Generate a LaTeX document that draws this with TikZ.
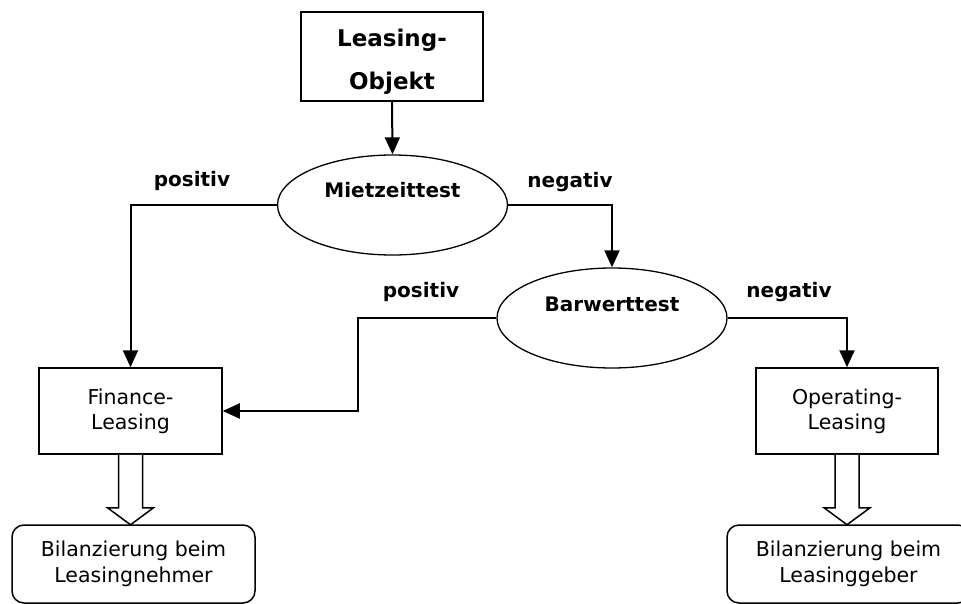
\documentclass[tikz,border=0pt]{standalone}
\usepackage{fontspec}
\setmainfont{DejaVu Sans}
\usetikzlibrary{shapes.geometric,arrows.meta,calc}
\tikzset{
  boxnode/.style={draw,line width=1.5pt,rectangle,align=center,inner sep=0pt,font=\fontsize{20.5}{25}\selectfont},
  testnode/.style={draw,line width=1.3pt,ellipse,inner sep=0pt,minimum width=230pt,minimum height=100pt,font=\bfseries\fontsize{20}{24}\selectfont},
  endnode/.style={draw,line width=1.5pt,rectangle,rounded corners=12pt,align=center,inner sep=0pt,font=\fontsize{20.5}{26}\selectfont},
  conn/.style={line width=2pt,-{Triangle[length=17pt,width=15pt]}},
  hollow/.style={draw,line width=1.5pt,fill=white},
  lbl/.style={font=\bfseries\fontsize{20}{24}\selectfont,inner sep=0pt}
}
\begin{document}
\begin{tikzpicture}[x=1pt,y=-1pt]
\useasboundingbox (0,0) rectangle (961,603);
\clip (0,0) rectangle (961,603);
\node[boxnode,minimum width=182pt,minimum height=89pt,font=\bfseries\fontsize{23}{43}\selectfont] (obj) at (392,56.5) {\rule{0pt}{28.5pt}Leasing-\\Objekt};
\node[testnode] (miet) at (392.5,205) {\raisebox{8pt}[0pt][0pt]{Mietzeittest}};
\node[testnode] (bar) at (612,318) {\raisebox{7pt}[0pt][0pt]{Barwerttest}};
\node[boxnode,minimum width=183pt,minimum height=86pt] (fin) at (130.5,411) {Finance-\\Leasing};
\node[boxnode,minimum width=182pt,minimum height=86pt] (op) at (847,411) {Operating-\\Leasing};
\node[endnode,minimum width=243pt,minimum height=78pt] (bl) at (133.5,564) {Bilanzierung beim\\Leasingnehmer};
\node[endnode,minimum width=243pt,minimum height=78pt] (br) at (848.5,564) {Bilanzierung beim\\Leasinggeber};
\node[lbl] (l1) at (192,181) {positiv};
\node[lbl] (l2) at (570,182) {negativ};
\node[lbl] (l3) at (421,292) {positiv};
\node[lbl] (l4) at (789,292) {negativ};
\draw[conn] (obj.south) -- (miet.north);
\draw[conn] (miet.west) -| (fin.north);
\draw[conn] (miet.east) -| (bar.north);
\draw[conn] (bar.west) -- ++(-138,0) |- (fin.east);
\draw[conn] (bar.east) -| (op.north);
\draw[hollow] ($(fin.south)+(-12,0)$) -- ++(0,53) -- ++(-11,0) -- ($(fin.south)+(0,70)$) -- ++(23,-17) -- ++(-11,0) -- ($(fin.south)+(12,0)$);
\draw[hollow] ($(op.south)+(-12,0)$) -- ++(0,53) -- ++(-11,0) -- ($(op.south)+(0,70)$) -- ++(23,-17) -- ++(-11,0) -- ($(op.south)+(12,0)$);
\end{tikzpicture}
\end{document}
